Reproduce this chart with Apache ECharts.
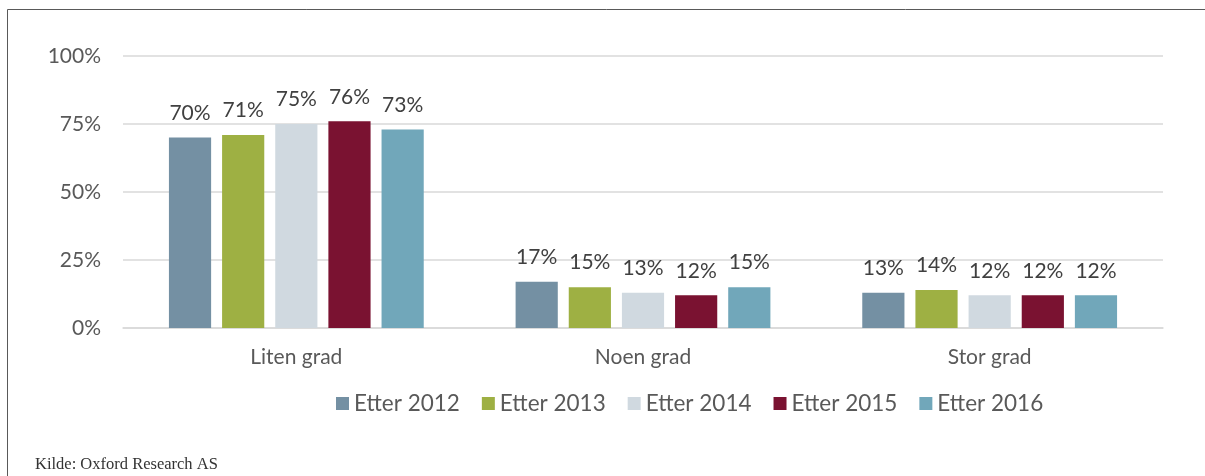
<!DOCTYPE html>
<html>
<head>
<meta charset="utf-8">
<script src="https://cdn.jsdelivr.net/npm/echarts@6/dist/echarts.min.js"></script>
<style>
  html, body { margin: 0; padding: 0; background: #fff; }
  #chart { width: 1205px; height: 476px; }
</style>
</head>
<body>
<div id="chart"></div>
<script>
// Share of respondents by degree, per survey year
const categories = ['Liten grad', 'Noen grad', 'Stor grad'];
const seriesNames = ['Etter 2012', 'Etter 2013', 'Etter 2014', 'Etter 2015', 'Etter 2016'];
const etter2012 = [70, 17, 13];
const etter2013 = [71, 15, 14];
const etter2014 = [75, 13, 12];
const etter2015 = [76, 12, 12];
const etter2016 = [73, 15, 12];
const yTicks = [0, 25, 50, 75, 100];
const sourceNote = 'Kilde: Oxford Research AS';

const seriesValues = [etter2012, etter2013, etter2014, etter2015, etter2016];
const colors = ['#7490A3', '#9EB043', '#D0D9E0', '#7A1231', '#71A7BA'];
const textColor = '#595959';
const font = 'Lato, "Open Sans", sans-serif';

const chart = echarts.init(document.getElementById('chart'), null, { renderer: 'canvas' });

chart.setOption({
  animation: false,
  backgroundColor: '#ffffff',
  color: colors,
  grid: { left: 123, right: 42, top: 56, bottom: 148, containLabel: false },
  legend: {
    data: seriesNames,
    bottom: 56,
    left: 331,
    itemWidth: 13,
    itemHeight: 13,
    itemGap: 22,
    icon: 'rect',
    textStyle: { color: textColor, fontFamily: font, fontSize: 22.5, padding: [0, 0, 0, 0] }
  },
  xAxis: {
    type: 'category',
    data: categories,
    axisLine: { show: true, lineStyle: { color: '#D9D9D9', width: 1.5 } },
    axisTick: { show: false },
    axisLabel: { color: textColor, fontFamily: font, fontSize: 21, margin: 19 }
  },
  yAxis: {
    type: 'value',
    min: yTicks[0],
    max: yTicks[yTicks.length - 1],
    interval: yTicks[1] - yTicks[0],
    axisLine: { show: false },
    axisTick: { show: false },
    splitLine: { lineStyle: { color: '#D9D9D9', width: 1.5 } },
    axisLabel: { color: textColor, fontFamily: font, fontSize: 21, margin: 22, formatter: '{value}%' }
  },
  series: seriesNames.map((name, i) => ({
    name: name,
    type: 'bar',
    data: seriesValues[i],
    barGap: '26%',
    barCategoryGap: '26.5%',
    label: {
      show: true,
      position: 'top',
      distance: 14,
      color: '#404040',
      fontFamily: font,
      fontSize: 21,
      formatter: p => p.value + '%'
    }
  })),
  graphic: [
    {
      type: 'polyline',
      shape: { points: [[7.5, 476], [7.5, 9.5], [1205, 9.5]] },
      style: { stroke: '#595959', lineWidth: 1, fill: null },
      silent: true
    },
    {
      type: 'text',
      left: 35,
      top: 456,
      style: {
        text: sourceNote,
        fill: '#333333',
        font: '16.5px "Liberation Serif", "DejaVu Serif", serif'
      }
    }
  ]
});
</script>
</body>
</html>
